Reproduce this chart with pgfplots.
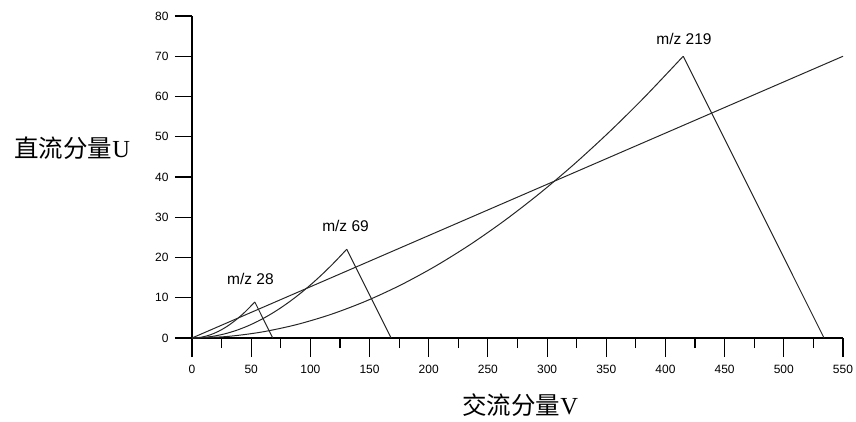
\documentclass[border=0pt]{standalone}
\usepackage{fontspec}
\setmainfont{Liberation Sans}
\newfontfamily\cjk{Noto Sans CJK SC}
\newfontfamily\tnr{Liberation Serif}
\usepackage{pgfplots}
\pgfplotsset{compat=1.18}
\newcommand{\tl}{\fontsize{12}{14}\selectfont}
\begin{document}
\begin{tikzpicture}
\path[use as bounding box] (-192pt,-83pt) rectangle (664pt,338pt);
\pgfplotsset{
  common/.style={
    at={(0pt,0pt)}, anchor=south west,
    scale only axis, width=651pt, height=322pt,
    xmin=0, xmax=550, ymin=0, ymax=80,
    axis lines=left, axis line style={-, line width=1.1pt, black},
    tick align=outside, tick style={line width=1.1pt, black},
    /pgf/number format/assume math mode=true,
    xticklabel={\tl\pgfmathprintnumber{\tick}},
    yticklabel={\tl\pgfmathprintnumber{\tick}},
    clip=false,
  }
}
% y ticks axis
\begin{axis}[common,
  xtick=\empty, ytick={0,10,...,80},
  major tick length=17pt,
  yticklabel style={xshift=-3pt},
]
\end{axis}
% data + x ticks
\begin{axis}[common,
  ytick=\empty,
  xtick={0,50,...,550}, minor xtick={25,75,...,525},
  major tick length=19pt, minor tick length=10pt,
  xticklabel style={yshift=-5pt},
  xlabel={\cjk 交流分量\tnr V},
  ylabel={\cjk 直流分量\tnr U},
  every axis x label/.style={at={(axis description cs:0.504,-0.208)}, anchor=center, font=\fontsize{24.5}{26}\selectfont},
  every axis y label/.style={at={(axis description cs:-0.184,0.59)}, anchor=center, font=\fontsize{24.5}{26}\selectfont},
]
% scan line
\addplot[line width=1pt, black!85] coordinates {(0,0) (550,70)};
% m/z 219
\addplot[line width=1pt, black!85, smooth] coordinates {
(0,0) (29.39,0.369) (58.78,1.476) (88.17,3.315) (117.56,5.882) (146.95,9.169)
(176.34,13.165) (205.73,17.857) (235.12,23.233) (264.51,29.276) (293.9,35.969)
(323.29,43.295) (352.68,51.234) (382.07,59.77) (415,70)};
\addplot[line width=1pt, black!85] coordinates {(415,70) (534,0)};
% m/z 69
\addplot[line width=1pt, black!85, smooth] coordinates {
(0,0) (9.26,0.116) (18.52,0.465) (27.78,1.044) (37.04,1.853) (46.30,2.889)
(55.56,4.148) (64.82,5.626) (74.08,7.320) (83.34,9.224) (92.60,11.333)
(101.86,13.641) (111.12,16.142) (120.38,18.832) (130.75,22.055)};
\addplot[line width=1pt, black!85] coordinates {(130.75,22.055) (168.25,0)};
% m/z 28
\addplot[line width=1pt, black!85, smooth] coordinates {
(0,0) (7.52,0.189) (15.03,0.752) (22.54,1.683) (30.06,2.970) (37.57,4.599)
(45.09,6.550) (53.06,8.95)};
\addplot[line width=1pt, black!85] coordinates {(53.06,8.95) (68.27,0)};
\node[font=\fontsize{15.5}{17}\selectfont, text=black] at (axis cs:415.7,74.3) {m/z 219};
\node[font=\fontsize{15.5}{17}\selectfont, text=black] at (axis cs:129.7,27.8) {m/z 69};
\node[font=\fontsize{15.5}{17}\selectfont, text=black] at (axis cs:49.4,14.7) {m/z 28};
\end{axis}
\end{tikzpicture}
\end{document}
